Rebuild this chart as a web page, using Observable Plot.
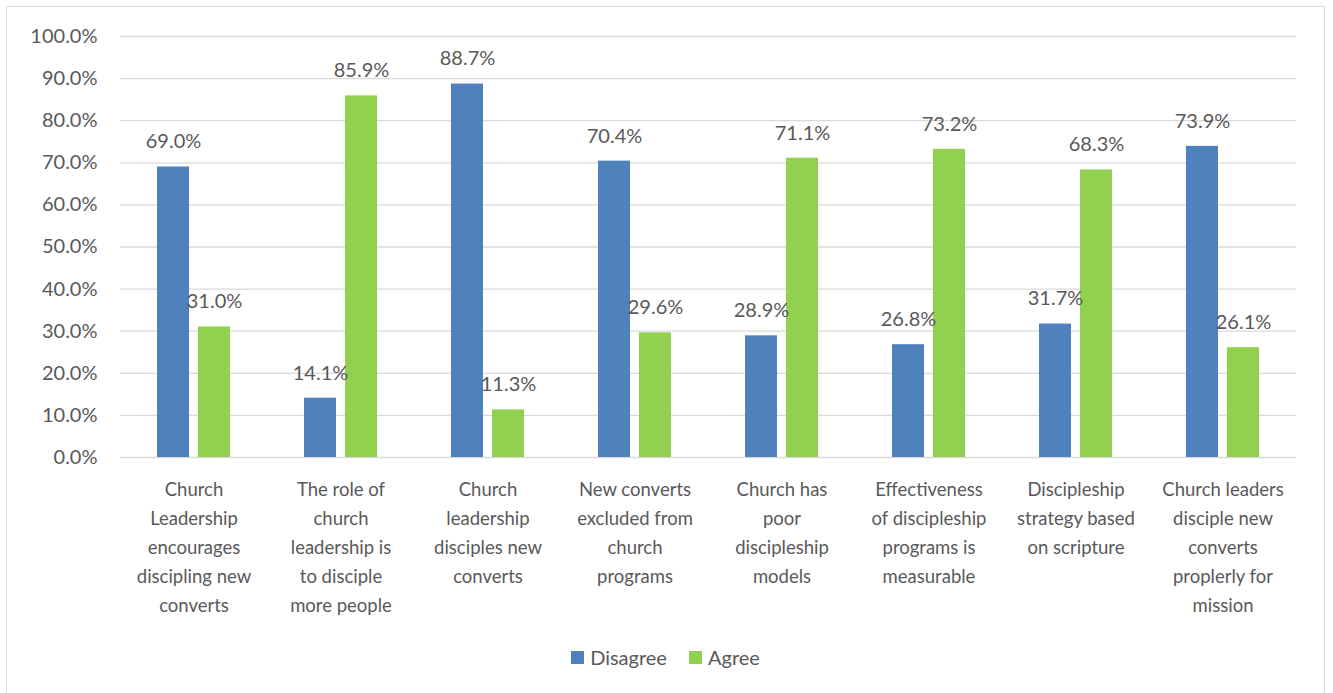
<!DOCTYPE html>
<html>
<head>
<meta charset="utf-8">
<script src="https://cdn.jsdelivr.net/npm/d3@7"></script>
<script src="https://cdn.jsdelivr.net/npm/@observablehq/plot@0.6"></script>
<style>
  body { margin: 0; background: #fff; font-family: Lato, "Open Sans", sans-serif; }
  #frame { position: absolute; left: 6px; top: 6px; width: 1319px; height: 700px; border: 1px solid #d9d9d9; box-sizing: border-box; background: #fff; }
  #legend { position: absolute; left: 0; top: 638px; width: 100%; display: flex; justify-content: center; gap: 22px; font-size: 20px; color: #595959; }
  #legend span.item { display: flex; align-items: center; gap: 6px; }
  #legend span.sw { width: 13px; height: 13px; display: inline-block; }
</style>
</head>
<body>
<div id="frame">
  <div id="chart"></div>
  <div id="legend"></div>
</div>
<script>
const categories = [
  "Church\nLeadership\nencourages\ndiscipling new\nconverts",
  "The role of\nchurch\nleadership is\nto disciple\nmore people",
  "Church\nleadership\ndisciples new\nconverts",
  "New converts\nexcluded from\nchurch\nprograms",
  "Church has\npoor\ndiscipleship\nmodels",
  "Effectiveness\nof discipleship\nprograms is\nmeasurable",
  "Discipleship\nstrategy based\non scripture",
  "Church leaders\ndisciple new\nconverts\nproplerly for\nmission"
];
const series = ["Disagree", "Agree"];
const disagree = [69.0, 14.1, 88.7, 70.4, 28.9, 26.8, 31.7, 73.9];
const agree = [31.0, 85.9, 11.3, 29.6, 71.1, 73.2, 68.3, 26.1];
const colors = ["#4f81bd", "#92d050"];
const yTicks = [0, 10, 20, 30, 40, 50, 60, 70, 80, 90, 100];

const data = [];
categories.forEach((c, i) => {
  data.push({cat: c, s: "Disagree", v: disagree[i]});
  data.push({cat: c, s: "Agree", v: agree[i]});
});

const textColor = "#595959";
const chart = Plot.plot({
  width: 1317,
  height: 630,
  marginLeft: 111,
  marginRight: 27,
  marginTop: 29,
  marginBottom: 180,
  style: {fontFamily: "Lato, 'Open Sans', sans-serif", color: textColor, background: "transparent"},
  fx: {domain: categories, padding: 0, axis: null},
  x: {domain: series, paddingInner: 0.214, paddingOuter: 0.863, axis: null},
  y: {domain: [0, 100], axis: null},
  color: {domain: series, range: colors},
  marks: [
    Plot.ruleY(yTicks, {stroke: "#d9d9d9", strokeWidth: 1.3}),
    Plot.text(yTicks, {fx: () => categories[0], y: d => d, text: d => d.toFixed(1) + "%", frameAnchor: "left", textAnchor: "end", dx: -23, fontSize: 20, fill: textColor}),
    Plot.barY(data, {fx: "cat", x: "s", y: "v", fill: "s"}),
    Plot.text(data, {fx: "cat", x: "s", y: "v", text: d => d.v.toFixed(1) + "%", dy: -25, fontSize: 20, fill: textColor}),
    Plot.text(categories, {fx: d => d, text: d => d, frameAnchor: "bottom", lineAnchor: "top", dy: 18, fontSize: 18.5, lineHeight: 1.57, fill: textColor})
  ]
});
document.getElementById("chart").appendChild(chart);

const legend = document.getElementById("legend");
series.forEach((s, i) => {
  const item = document.createElement("span");
  item.className = "item";
  const sw = document.createElement("span");
  sw.className = "sw";
  sw.style.background = colors[i];
  item.appendChild(sw);
  item.appendChild(document.createTextNode(s));
  legend.appendChild(item);
});
</script>
</body>
</html>
